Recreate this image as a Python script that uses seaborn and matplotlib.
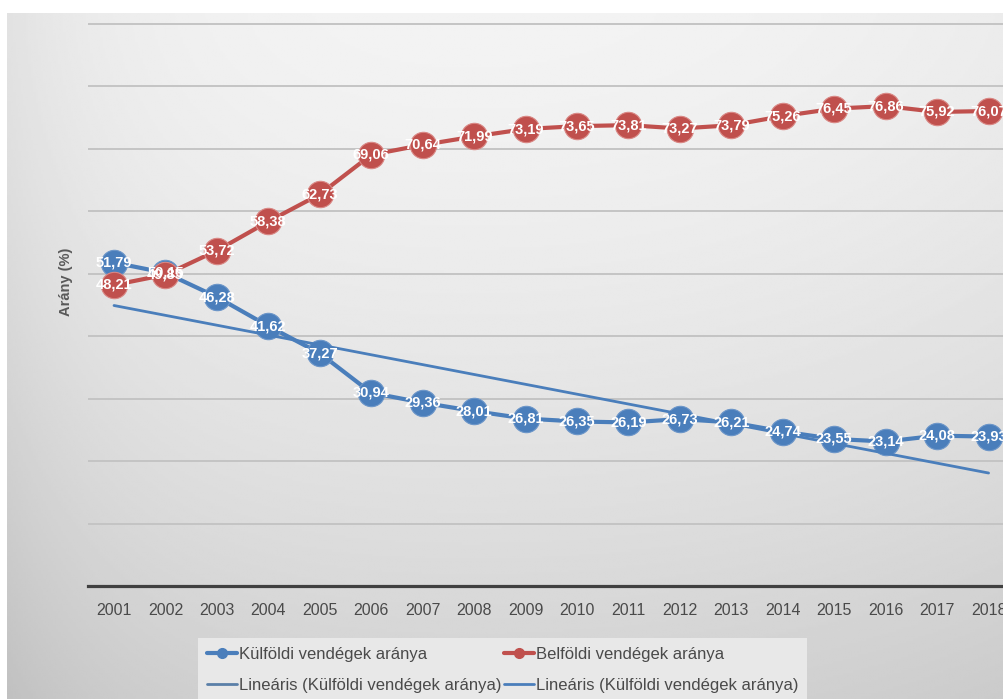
import numpy as np
import pandas as pd
import matplotlib
matplotlib.use("Agg")
import matplotlib.pyplot as plt
import seaborn as sns
from matplotlib.lines import Line2D

# adatok
years = [2001, 2002, 2003, 2004, 2005, 2006, 2007, 2008, 2009,
         2010, 2011, 2012, 2013, 2014, 2015, 2016, 2017, 2018]
kulfoldi = [51.79, 50.15, 46.28, 41.62, 37.27, 30.94, 29.36, 28.01, 26.81,
            26.35, 26.19, 26.73, 26.21, 24.74, 23.55, 23.14, 24.08, 23.93]
belfoldi = [48.21, 49.85, 53.72, 58.38, 62.73, 69.06, 70.64, 71.99, 73.19,
            73.65, 73.81, 73.27, 73.79, 75.26, 76.45, 76.86, 75.92, 76.07]
series_names = ["Külföldi vendégek aránya", "Belföldi vendégek aránya"]
trend_label = "Lineáris (Külföldi vendégek aránya)"
y_label = "Arány (%)"

BLUE = "#4a7ebb"
RED = "#c0504d"
TEXT = "#595959"

sns.set_theme(style="white")
plt.rcParams["font.family"] = ["Liberation Sans", "DejaVu Sans"]

df = pd.DataFrame({
    "year": years * 2,
    "value": kulfoldi + belfoldi,
    "series": [series_names[0]] * len(years) + [series_names[1]] * len(years),
})

W, H = 1004, 699
fig = plt.figure(figsize=(W / 100, H / 100), dpi=100, facecolor="white")

# háttér színátmenet
bg = fig.add_axes([7 / W, 0, (W - 7) / W, (H - 13) / H], zorder=-5)
hh, vv = np.meshgrid(np.linspace(0, 1, 400), np.linspace(0, 1, 300))
val = 0.955 - 0.13 * vv ** 1.5 - 0.07 * np.exp(-hh / 0.12) - 0.03 * hh ** 4
bg.imshow(val, cmap="gray", vmin=0, vmax=1, aspect="auto",
          extent=[0, 1, 1, 0], interpolation="bilinear")
bg.set_axis_off()

ax = fig.add_axes([88.3 / W, (H - 586) / H, 926 / W, 568.2 / H])
ax.set_facecolor("none")

sns.lineplot(data=df[df.series == series_names[0]], x="year", y="value",
             color=BLUE, marker="o", markersize=19, linewidth=3,
             markeredgecolor="#6b95c8", markeredgewidth=0.8, ax=ax,
             legend=False, zorder=3)
sns.regplot(x=np.array(years, dtype=float), y=np.array(kulfoldi), scatter=False,
            ci=None, truncate=True, color=BLUE,
            line_kws={"linewidth": 2, "zorder": 4}, ax=ax)
sns.lineplot(data=df[df.series == series_names[1]], x="year", y="value",
             color=RED, marker="o", markersize=19, linewidth=3,
             markeredgecolor="#d98784", markeredgewidth=0.8, ax=ax,
             legend=False, zorder=5)

for x, v in zip(years, kulfoldi):
    ax.text(x, v, f"{v:.2f}".replace(".", ","), color="white", fontsize=10.5,
            fontweight="bold", ha="center", va="center", zorder=6)
for x, v in zip(years, belfoldi):
    ax.text(x, v, f"{v:.2f}".replace(".", ","), color="white", fontsize=10.5,
            fontweight="bold", ha="center", va="center", zorder=7)

ax.set_xlim(2000.5, 2018.5)
ax.set_ylim(0, 91)
ax.set_yticks(range(10, 91, 10))
ax.set_yticklabels([])
ax.set_xticks(years)
ax.set_xticklabels([str(y) for y in years])
ax.tick_params(axis="x", length=0, pad=12, labelsize=11.5, labelcolor="#4a4a4a")
ax.tick_params(axis="y", length=0)
ax.yaxis.grid(True, color="#c4c4c4", linewidth=1.4)
ax.set_axisbelow(True)
for s in ["top", "right", "left"]:
    ax.spines[s].set_visible(False)
ax.spines["bottom"].set_color("#404040")
ax.spines["bottom"].set_linewidth(2.3)
ax.set_xlabel("")
ax.set_ylabel("")
fig.text(66 / W, 1 - 282 / H, y_label, rotation=90, ha="center", va="center",
         fontsize=10.5, fontweight="bold", color=TEXT)

handles = [
    Line2D([], [], color=BLUE, lw=3, marker="o", markersize=7),
    Line2D([], [], color="#5a7fa8", lw=2),
    Line2D([], [], color=RED, lw=3, marker="o", markersize=7),
    Line2D([], [], color=BLUE, lw=2),
]
labels = [series_names[0], trend_label, series_names[1], trend_label]
leg = fig.legend(handles, labels, ncol=2, loc="upper left",
                 bbox_to_anchor=(198 / W, 1 - 638 / H), frameon=True,
                 facecolor="#e8e8e8", edgecolor="none", framealpha=1,
                 fancybox=False, fontsize=12, handlelength=1.8,
                 handletextpad=0.1, columnspacing=0.15, labelspacing=0.95,
                 borderpad=0.55, borderaxespad=0)
for t in leg.get_texts():
    t.set_color("#4a4a4a")

fig.savefig("out.png", dpi=100)
